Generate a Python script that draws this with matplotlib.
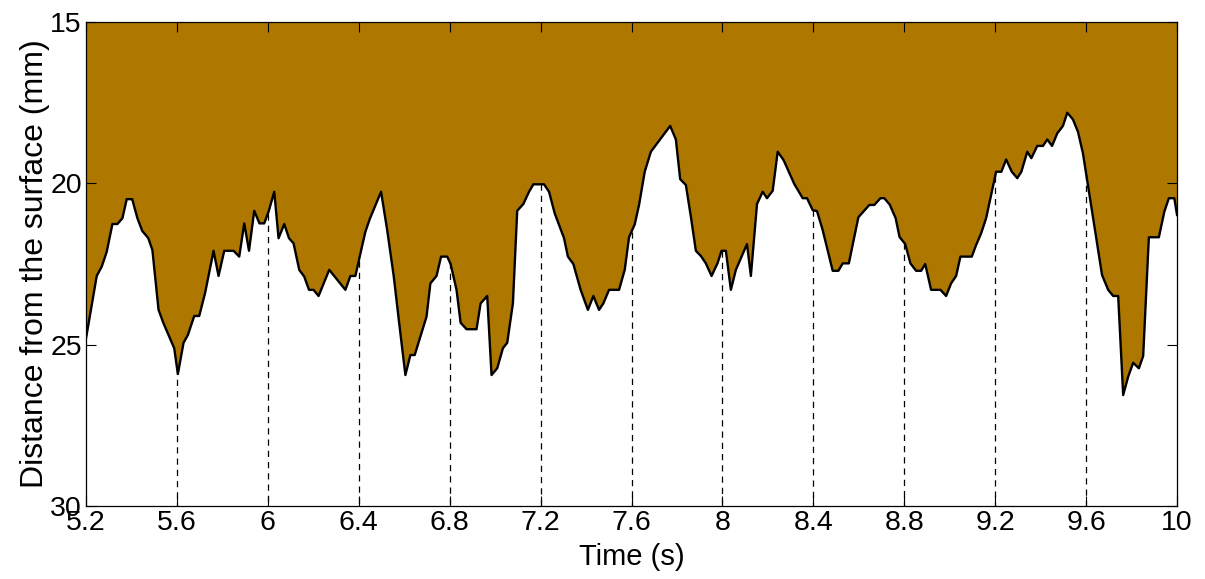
import numpy as np
import matplotlib
matplotlib.use('Agg')
import matplotlib.pyplot as plt

plt.rcParams['font.family'] = ['Liberation Sans', 'DejaVu Sans']

# depth profile
time = [5.200, 5.247, 5.269, 5.291, 5.316, 5.338, 5.360, 5.379, 5.403, 5.426,
        5.447, 5.474, 5.492, 5.519, 5.541, 5.563, 5.588, 5.604, 5.629, 5.648,
        5.676, 5.698, 5.724, 5.761, 5.783, 5.808, 5.849, 5.874, 5.896, 5.917,
        5.940, 5.963, 5.984, 6.003, 6.028, 6.047, 6.072, 6.093, 6.113, 6.138,
        6.160, 6.181, 6.201, 6.223, 6.270, 6.341, 6.363, 6.385, 6.404, 6.429,
        6.448, 6.498, 6.525, 6.554, 6.576, 6.605, 6.627, 6.646, 6.671, 6.698,
        6.715, 6.742, 6.762, 6.789, 6.804, 6.830, 6.848, 6.874, 6.918, 6.936,
        6.965, 6.984, 7.009, 7.034, 7.053, 7.078, 7.097, 7.124, 7.149, 7.168,
        7.215, 7.237, 7.262, 7.303, 7.320, 7.344, 7.376, 7.408, 7.432, 7.457,
        7.476, 7.501, 7.545, 7.570, 7.589, 7.614, 7.633, 7.658, 7.685, 7.770,
        7.795, 7.814, 7.839, 7.861, 7.883, 7.905, 7.927, 7.952, 7.978, 7.996,
        8.015, 8.037, 8.059, 8.108, 8.125, 8.152, 8.177, 8.196, 8.221, 8.243,
        8.269, 8.316, 8.353, 8.372, 8.397, 8.416, 8.441, 8.485, 8.510, 8.529,
        8.556, 8.598, 8.646, 8.668, 8.695, 8.712, 8.736, 8.762, 8.779, 8.804,
        8.827, 8.852, 8.874, 8.892, 8.918, 8.959, 8.984, 9.006, 9.028, 9.047,
        9.097, 9.116, 9.138, 9.160, 9.182, 9.204, 9.227, 9.248, 9.273, 9.297,
        9.315, 9.341, 9.359, 9.385, 9.410, 9.429, 9.450, 9.473, 9.498, 9.517,
        9.542, 9.564, 9.586, 9.605, 9.641, 9.670, 9.697, 9.719, 9.741, 9.763,
        9.785, 9.807, 9.832, 9.851, 9.876, 9.920, 9.944, 9.964, 9.988, 10.000]
depth = [24.80, 22.87, 22.58, 22.12, 21.26, 21.26, 21.08, 20.49, 20.49, 21.08,
         21.47, 21.70, 22.07, 23.92, 24.34, 24.70, 25.11, 25.91, 24.94, 24.70,
         24.11, 24.11, 23.39, 22.09, 22.87, 22.09, 22.09, 22.27, 21.24, 22.09,
         20.85, 21.24, 21.24, 20.88, 20.26, 21.70, 21.26, 21.70, 21.86, 22.68,
         22.89, 23.30, 23.30, 23.49, 22.68, 23.30, 22.87, 22.87, 22.27, 21.50,
         21.11, 20.26, 21.45, 22.89, 24.23, 25.94, 25.32, 25.32, 24.75, 24.13,
         23.10, 22.87, 22.27, 22.27, 22.50, 23.30, 24.32, 24.52, 24.52, 23.72,
         23.49, 25.94, 25.73, 25.11, 24.94, 23.72, 20.85, 20.64, 20.26, 20.03,
         20.03, 20.26, 20.93, 21.70, 22.27, 22.50, 23.30, 23.92, 23.49, 23.92,
         23.72, 23.30, 23.30, 22.68, 21.67, 21.27, 20.67, 19.64, 19.02, 18.22,
         18.64, 19.87, 20.05, 21.03, 22.09, 22.25, 22.48, 22.87, 22.48, 22.09,
         22.09, 23.30, 22.68, 21.88, 22.87, 20.64, 20.26, 20.46, 20.23, 19.02,
         19.28, 20.02, 20.46, 20.46, 20.83, 20.86, 21.45, 22.71, 22.71, 22.48,
         22.48, 21.05, 20.67, 20.67, 20.46, 20.46, 20.66, 21.08, 21.66, 21.88,
         22.48, 22.71, 22.71, 22.50, 23.30, 23.30, 23.49, 23.10, 22.87, 22.27,
         22.27, 21.91, 21.55, 21.08, 20.36, 19.64, 19.64, 19.26, 19.64, 19.84,
         19.64, 19.02, 19.22, 18.84, 18.84, 18.64, 18.84, 18.45, 18.22, 17.81,
         18.02, 18.40, 19.07, 19.92, 21.55, 22.84, 23.30, 23.49, 23.49, 26.56,
         25.99, 25.56, 25.73, 25.35, 21.67, 21.67, 20.88, 20.46, 20.46, 20.98]

xticks = [5.2, 5.6, 6.0, 6.4, 6.8, 7.2, 7.6, 8.0, 8.4, 8.8, 9.2, 9.6, 10.0]
yticks = [15, 20, 25, 30]
fill_color = '#AE7800'

t = np.array(time)
d = np.array(depth)

fig = plt.figure(figsize=(12.05, 5.79), dpi=100)
ax = fig.add_axes([0.0714, 0.126, 0.9054, 0.836])

ax.fill_between(t, 15, d, color=fill_color, lw=0)
ax.plot(t, d, color='black', lw=1.7)

# dashed drops from the profile at each inner tick
for xv in xticks[1:-1]:
    ax.plot([xv, xv], [np.interp(xv, t, d), 30], color='black', lw=0.9,
            ls=(0, (5, 4)))

ax.set_xlim(5.2, 10)
ax.set_ylim(30, 15)
ax.set_xticks(xticks)
ax.set_xticklabels(['%g' % v for v in xticks])
ax.set_yticks(yticks)
ax.tick_params(direction='in', length=7, width=0.8, labelsize=20.5,
               top=True, right=True, pad=3)
for sp in ax.spines.values():
    sp.set_linewidth(0.9)
    sp.set_zorder(5)

ax.set_xlabel('Time (s)', fontsize=21, labelpad=5)
ax.set_ylabel('Distance from the surface (mm)', fontsize=23, labelpad=0)

fig.savefig('out.png', dpi=100)
